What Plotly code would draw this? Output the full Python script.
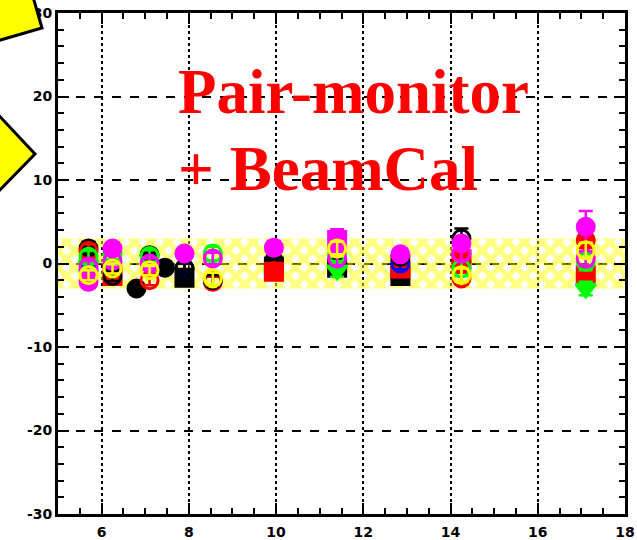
import plotly.graph_objects as go

# ---------------- data ----------------
band_x = [5, 18, 18, 5, 5]
band_y = [-3, -3, 3, 3, -3]

black_fc_x = [5.7, 6.8, 7.1, 7.45, 9.95, 12.85, 14.25]
black_fc_y = [1.8, -3.0, 1.0, -0.5, 0.3, -0.3, 0.2]
black_fc_e = [0.8, 0.3, 0.6, 0.5, 0.9, 0.9, 1.0]

black_sq_x = [7.9, 9.95, 11.4, 12.85]
black_sq_y = [-1.7, -0.4, -0.5, -1.5]
black_sq_e = [0.7, 0.8, 0.7, 0.8]

red_oc_x = [5.7, 7.1, 8.55, 9.95, 14.25]
red_oc_y = [1.5, -2.0, -2.2, -0.9, -1.8]
red_oc_e = [0.8, 0.6, 0.6, 0.7, 0.7]

red_sq_x = [6.25, 9.95, 12.85, 14.25, 17.1]
red_sq_y = [-1.5, -1.0, -0.6, 0.5, -1.4]
red_sq_e = [0.6, 0.7, 0.7, 0.8, 0.9]

red_fc_x = [17.1]
red_fc_y = [2.8]
red_fc_e = [0.9]

green_oc_x = [5.7, 6.25, 7.1, 8.55, 11.4, 14.25, 17.1]
green_oc_y = [0.8, 1.2, 0.9, 1.2, 1.1, -0.6, 0.2]
green_oc_e = [0.7, 0.7, 0.7, 0.8, 0.8, 0.9, 1.0]

green_tr_x = [5.7, 11.4, 17.1]
green_tr_y = [-0.2, -0.8, -3.0]
green_tr_e = [0.7, 0.8, 0.8]

blue_oc_x = [5.7, 7.9, 12.85]
blue_oc_y = [-0.8, -0.6, 0.0]
blue_oc_e = [0.7, 0.6, 0.7]

mag_fc_x = [5.7, 6.25, 7.9, 9.95, 12.85, 14.25, 17.1]
mag_fc_y = [-2.2, 1.8, 1.2, 1.9, 1.1, 2.4, 4.4]
mag_fc_e = [0.7, 0.7, 0.6, 0.8, 0.7, 0.8, 1.9]

mag_oc_x = [5.7, 6.25, 7.1, 8.55, 11.4, 14.25, 17.1]
mag_oc_y = [-0.4, 0.3, 0.0, 0.6, 0.6, 1.2, 0.6]
mag_oc_e = [0.7, 0.7, 0.6, 0.7, 0.8, 0.8, 0.9]

mag_sq_x = [11.4]
mag_sq_y = [2.8]
mag_sq_e = [1.3]

yel_oc_x = [5.7, 6.25, 7.1, 8.55, 11.4, 14.25, 17.1]
yel_oc_y = [-1.4, -0.6, -0.8, -1.8, 1.8, -1.4, 1.6]
yel_oc_e = [0.6, 0.6, 0.6, 0.7, 0.8, 0.8, 0.9]

black_oc_x = [6.25, 7.9, 8.55, 12.85, 14.25]
black_oc_y = [-1.5, -0.6, -2.0, 0.8, 3.0]
black_oc_e = [0.6, 0.6, 0.6, 0.7, 1.2]

x_ticks = [6, 8, 10, 12, 14, 16, 18]
y_ticks = [-30, -20, -10, 0, 10, 20, 30]

# ---------------- figure ----------------
W, H = 637, 540
L, R, T, B = 58, 12, 13, 26
PW, PH = W - L - R, H - T - B


def px(x):
    return (x - L) / PW


def py(y):
    return 1 - (y - T) / PH


fig = go.Figure()

fig.add_trace(go.Scatter(
    x=band_x, y=band_y, mode="lines", fill="toself",
    line=dict(width=0), fillcolor="rgba(0,0,0,0)",
    fillpattern=dict(shape="x", fgcolor="#ffff00", bgcolor="rgba(0,0,0,0)",
                     size=12, solidity=0.7),
    hoverinfo="skip", showlegend=False))

series = [
    (black_fc_x, black_fc_y, black_fc_e, "black", "circle"),
    (black_sq_x, black_sq_y, black_sq_e, "black", "square"),
    (red_sq_x, red_sq_y, red_sq_e, "red", "square"),
    (green_tr_x, green_tr_y, green_tr_e, "#00ff00", "triangle-down"),
    (blue_oc_x, blue_oc_y, blue_oc_e, "blue", "circle-open"),
    (red_oc_x, red_oc_y, red_oc_e, "red", "circle-open"),
    (red_fc_x, red_fc_y, red_fc_e, "red", "circle"),
    (green_oc_x, green_oc_y, green_oc_e, "#00ff00", "circle-open"),
    (black_oc_x, black_oc_y, black_oc_e, "black", "circle-open"),
    (mag_fc_x, mag_fc_y, mag_fc_e, "#ff00ff", "circle"),
    (mag_sq_x, mag_sq_y, mag_sq_e, "#ff00ff", "square"),
    (mag_oc_x, mag_oc_y, mag_oc_e, "#ff00ff", "circle-open"),
    (yel_oc_x, yel_oc_y, yel_oc_e, "#ffff00", "circle-open"),
]

for xs, ys, es, col, sym in series:
    fig.add_trace(go.Scatter(
        x=xs, y=ys, mode="markers",
        marker=dict(symbol=sym, size=17, color=col,
                    line=dict(width=3, color=col)),
        error_y=dict(type="data", array=es, visible=True, color=col,
                     thickness=2.5, width=7),
        showlegend=False))

axis_common = dict(
    showline=True, linewidth=3, linecolor="black", mirror="ticks",
    ticks="inside", ticklen=11, tickwidth=2, tickcolor="black",
    zeroline=False, showgrid=True, gridcolor="black", gridwidth=2,
    automargin=False,
    tickfont=dict(family="DejaVu Sans", size=14, color="black", weight="bold"),
)

fig.update_xaxes(range=[5, 18], tickvals=x_ticks, ticktext=[str(v) for v in x_ticks],
                 griddash="dot", ticklabelstandoff=3,
                 minor=dict(dtick=0.5, ticks="inside", ticklen=6, tickwidth=2,
                            tickcolor="black", showgrid=False),
                 **axis_common)
fig.update_yaxes(range=[-30, 30], tickvals=y_ticks, ticktext=[str(v) for v in y_ticks],
                 griddash="dash",
                 minor=dict(dtick=2, ticks="inside", ticklen=6, tickwidth=2,
                            tickcolor="black", showgrid=False),
                 **axis_common)

# decorative yellow arrow shapes at top-left
poly1 = [(-10, -10), (31, -10), (42, 28), (-10, 43)]
poly2 = [(-10, 106), (35, 154), (-10, 200)]
for poly in (poly1, poly2):
    path = "M " + " L ".join(f"{px(a):.4f},{py(b):.4f}" for a, b in poly) + " Z"
    fig.add_shape(type="path", xref="paper", yref="paper", path=path,
                  fillcolor="#ffff00", line=dict(color="black", width=3),
                  layer="above")

fig.add_annotation(text="Pair-monitor", xref="paper", yref="paper",
                   x=px(176), y=py(92), xanchor="left", yanchor="middle",
                   showarrow=False,
                   font=dict(family="Liberation Serif", size=63, color="red",
                             weight="bold"))
fig.add_annotation(text="+ BeamCal", xref="paper", yref="paper",
                   x=px(176), y=py(169), xanchor="left", yanchor="middle",
                   showarrow=False,
                   font=dict(family="Liberation Serif", size=63, color="red",
                             weight="bold"))

fig.update_layout(
    width=W, height=H,
    margin=dict(l=L, r=R, t=T, b=B),
    paper_bgcolor="white", plot_bgcolor="white",
    showlegend=False,
)

fig.write_html("out.html")
